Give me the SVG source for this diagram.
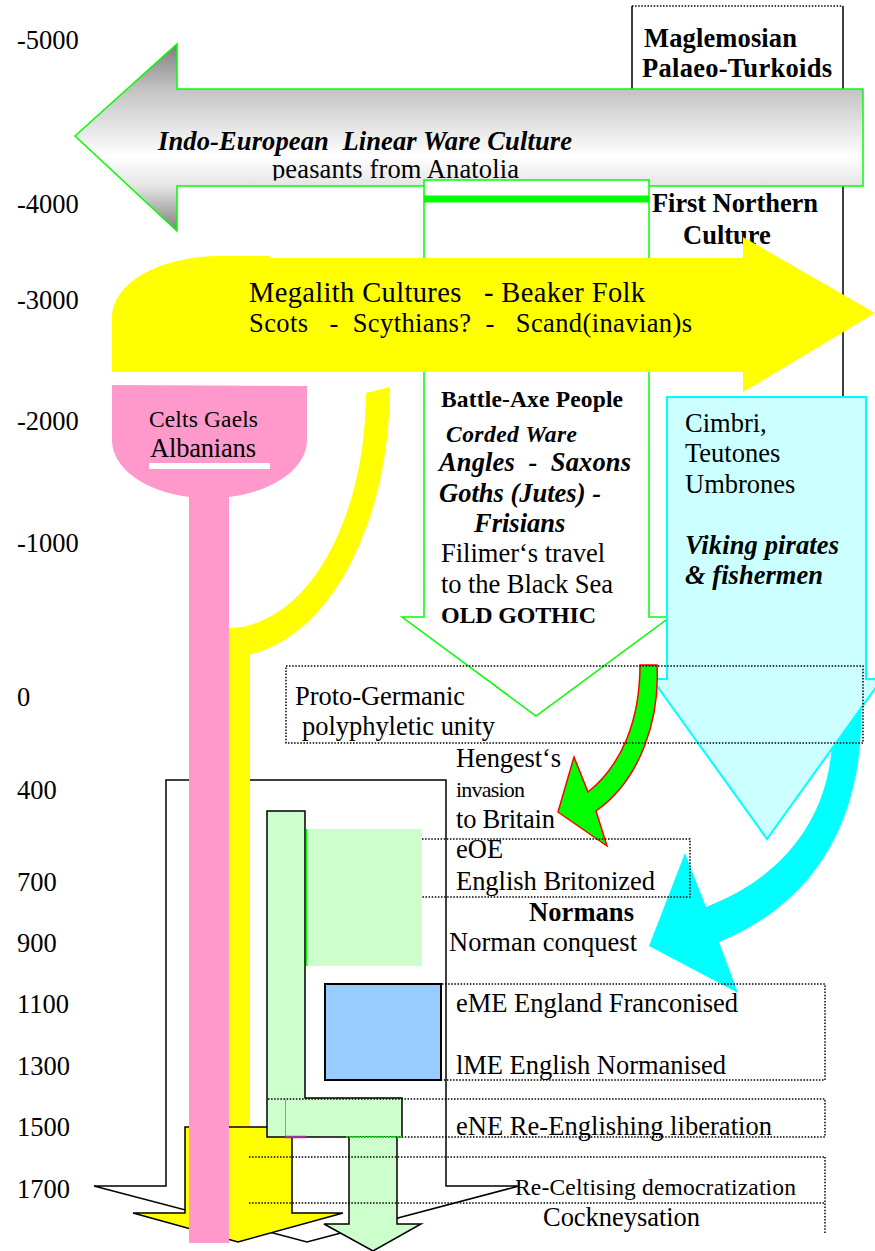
<svg xmlns="http://www.w3.org/2000/svg" width="875" height="1251" viewBox="0 0 875 1251">
  <style>
    .t { font-family: "Liberation Serif", "Times New Roman", serif; font-size: 26.5px; fill: #000; white-space: pre; }
    .b { font-weight: bold; }
    .i { font-style: italic; }
    .s28 { font-size: 28.5px; }
    .s23 { font-size: 23.5px; }
    .s22 { font-size: 22px; }
    .s24 { font-size: 24px; }
    .dot { fill: none; stroke: #000; stroke-width: 1.5; stroke-dasharray: 1.5 1.6; }
    .edge { stroke: #000; stroke-width: 1.5; }
  </style>
  <defs>
    <linearGradient id="steel" gradientUnits="userSpaceOnUse" x1="0" y1="43" x2="0" y2="232">
      <stop offset="0" stop-color="#7c7c7c"/>
      <stop offset="0.24" stop-color="#c2c2c2"/>
      <stop offset="0.6" stop-color="#ffffff"/>
      <stop offset="0.76" stop-color="#e4e4e4"/>
      <stop offset="1" stop-color="#7c7c7c"/>
    </linearGradient>
    <clipPath id="clipPeasants">
      <rect x="0" y="0" width="875" height="180.5"/>
    </clipPath>
  </defs>

  <!-- time axis -->
  <g id="year-axis" class="t">
    <text x="17" y="49">-5000</text>
    <text x="17" y="213">-4000</text>
    <text x="17" y="309">-3000</text>
    <text x="17" y="430">-2000</text>
    <text x="17" y="552">-1000</text>
    <text x="17" y="706">0</text>
    <text x="17" y="799">400</text>
    <text x="17" y="891">700</text>
    <text x="17" y="952">900</text>
    <text x="17" y="1013">1100</text>
    <text x="17" y="1075">1300</text>
    <text x="17" y="1136">1500</text>
    <text x="17" y="1198">1700</text>
  </g>

  <!-- northern frame on the right -->
  <g id="northern-frame">
    <line class="dot" x1="632" y1="6" x2="843" y2="6"/>
    <line class="edge" x1="632" y1="6" x2="632" y2="90"/>
    <line class="edge" x1="843" y1="6" x2="843" y2="398"/>
  </g>

  <!-- Indo-European arrow -->
  <g id="indo-european">
    <polygon points="75,136 177,44 177,89 863,89 863,186 177,186 177,231" fill="url(#steel)" stroke="#00ff00" stroke-width="1.5"/>
    <text class="t b i" x="158" y="150" textLength="414" xml:space="preserve">Indo-European  Linear Ware Culture</text>
    <text class="t" x="272" y="178" textLength="247" clip-path="url(#clipPeasants)">peasants from Anatolia</text>
  </g>

  <!-- Battle-Axe arrow -->
  <g id="battle-axe">
    <polygon points="424,180 649,180 649,617 670,617 536,716 402,617 424,617" fill="#fff" stroke="#00ff00" stroke-width="1.5"/>
    <line x1="424" y1="199" x2="649" y2="199" stroke="#00ff00" stroke-width="7"/>
  </g>

  <g id="maglemosian" class="t b">
    <text x="644" y="47" textLength="153">Maglemosian</text>
    <text x="642" y="77" textLength="190">Palaeo-Turkoids</text>
  </g>

  <g id="first-northern" class="t b">
    <text x="652" y="212" textLength="166">First Northern</text>
    <text x="683" y="244">Culture</text>
  </g>

  <!-- Megalith arrow -->
  <g id="megalith">
    <path d="M112,372 V317 A107,61 0 0 1 219,256 H270 V258 H743 V237 L875,313 L743,392 V372 Z" fill="#ffff00"/>
    <text class="t s28" x="249" y="302" textLength="396" xml:space="preserve">Megalith Cultures   - Beaker Folk</text>
    <text class="t" x="249" y="332" textLength="443" xml:space="preserve">Scots   -  Scythians?  -   Scand(inavian)s</text>
  </g>

  <!-- Battle-Axe texts -->
  <g id="battle-axe-labels">
    <text class="t b s23" x="441" y="407" textLength="182">Battle-Axe People</text>
    <text class="t b i s23" x="446" y="442" textLength="131">Corded Ware</text>
    <text class="t b i" x="439" y="471" textLength="192" xml:space="preserve">Angles  -  Saxons</text>
    <text class="t b i" x="439" y="502">Goths (Jutes) -</text>
    <text class="t b i" x="474" y="532">Frisians</text>
    <text class="t" x="441" y="562" textLength="164">Filimer‘s travel</text>
    <text class="t" x="441" y="593" textLength="172">to the Black Sea</text>
    <text class="t b s24" x="441" y="623" textLength="155">OLD GOTHIC</text>
  </g>

  <!-- curved migration arrows -->
  <g id="connectors">
    <path id="norman-arrow" d="M860,690 C868,790 835,895 719,942 L738,993 L649,946 L685,853 L706,907 C790,875 830,810 832,740 Z" fill="#00ffff"/>
  </g>

  <!-- Cimbri arrow -->
  <g id="cimbri">
    <polygon points="667,397 866,397 866,679 882,679 767,839 652,679 667,679" fill="#ccffff" stroke="#00ffff" stroke-width="2"/>
    <text class="t" x="685" y="432">Cimbri,</text>
    <text class="t" x="685" y="462">Teutones</text>
    <text class="t" x="685" y="493">Umbrones</text>
    <text class="t b i" x="685" y="554" textLength="154">Viking pirates</text>
    <text class="t b i" x="685" y="584" textLength="138">&amp; fishermen</text>
  </g>

  <g id="hengest-connector">
    <path id="hengest-arrow" d="M640,665 L657,665 C660,720 640,780 596,811 L607,846 L558,812 L574,757 L588,792 C622,765 640,720 640,665 Z" fill="#00ff00" stroke="#ff0000" stroke-width="1.5" stroke-linejoin="miter"/>
  </g>

  <!-- English frame arrow -->
  <g id="english-frame">
    <polygon points="166,780 446,780 446,1186 519,1186 307,1242 94,1186 166,1186" fill="#fff" class="edge"/>
  </g>

  <!-- Scots lineage -->
  <g id="scots-lineage">
    <path d="M366,393 L390,387 A162,270 0 0 1 250,654.5 L250,1130 L200,1130 L200,628 L228,628 A138,235 0 0 0 366,393 Z" fill="#ffff00"/>
    <polygon points="185,1127 292,1127 292,1213 343,1213 238,1242 133,1213 185,1213" fill="#ffff00" class="edge"/>
  </g>

  <!-- Celts -->
  <g id="celts">
    <path d="M112,385 L307,386 L307,440 A97,58 0 0 1 229,497 L229,1243 L189,1243 L189,497 A97,58 0 0 1 112,440 Z" fill="#ff99cc"/>
    <text class="t s23" x="149" y="427" textLength="109">Celts Gaels</text>
    <text class="t" x="150" y="457" textLength="106">Albanians</text>
    <rect x="149" y="463" width="121" height="6" fill="#fff"/>
  </g>

  <!-- Old English -->
  <g id="old-english">
    <polygon points="267,811 305,811 305,1098 402,1098 402,1137 267,1137" fill="#ccffcc" class="edge"/>
    <rect x="306" y="829" width="116" height="137" fill="#ccffcc"/>
    <line x1="306.5" y1="829" x2="306.5" y2="966" stroke="#00ff00" stroke-width="1"/>
    <line x1="285.5" y1="1099" x2="285.5" y2="1137" stroke="#999" stroke-width="1"/>
  </g>

  <!-- Middle English -->
  <g id="middle-english">
    <rect x="325" y="984" width="116" height="96" fill="#99ccff" stroke="#000" stroke-width="2"/>
  </g>

  <!-- Modern English -->
  <g id="modern-english">
    <path d="M397,1137 V1224 H421 L373,1251 L324,1224 H349 V1137" fill="#ccffcc" class="edge"/>
    <line x1="346" y1="1137" x2="402" y2="1137" stroke="#00dd00" stroke-width="2" stroke-dasharray="2 1"/>
    <line x1="285" y1="1137" x2="306" y2="1137" stroke="#993399" stroke-width="2.5"/>
  </g>

  <!-- period frames -->
  <g id="period-frames">
    <rect class="dot" x="286" y="666" width="577" height="77"/>
    <polyline class="dot" points="422,839 690,839 690,897 422,897"/>
    <polyline class="dot" points="442,984 825,984 825,1080 442,1080"/>
    <polyline class="dot" points="268,1099 825,1099 825,1137 402,1137"/>
    <line class="dot" x1="249" y1="1157" x2="825" y2="1157"/>
    <line class="dot" x1="249" y1="1203" x2="825" y2="1203"/>
    <line class="dot" x1="825" y1="1157" x2="825" y2="1233"/>
  </g>

  <!-- period labels -->
  <g id="proto-germanic" class="t">
    <text x="295" y="705" textLength="170">Proto-Germanic</text>
    <text x="302" y="735" textLength="193">polyphyletic unity</text>
  </g>
  <g id="hengest" class="t">
    <text x="456" y="767" textLength="105">Hengest‘s</text>
    <text class="s22" x="456" y="797" textLength="69">invasion</text>
    <text x="456" y="828" textLength="99">to Britain</text>
  </g>
  <g id="eoe" class="t">
    <text x="456" y="858">eOE</text>
    <text x="456" y="890" textLength="199">English Britonized</text>
  </g>
  <g id="normans" class="t">
    <text class="b" x="529" y="921" textLength="105">Normans</text>
    <text x="449" y="951" textLength="188">Norman conquest</text>
  </g>
  <g id="me" class="t">
    <text x="456" y="1012" textLength="282">eME England Franconised</text>
    <text x="456" y="1074" textLength="270">lME English Normanised</text>
  </g>
  <g id="ene" class="t">
    <text x="456" y="1135" textLength="316">eNE Re-Englishing liberation</text>
  </g>
  <g id="late" class="t">
    <text class="s23" x="515" y="1195" textLength="281">Re-Celtising democratization</text>
    <text x="543" y="1226" textLength="157">Cockneysation</text>
  </g>
</svg>
